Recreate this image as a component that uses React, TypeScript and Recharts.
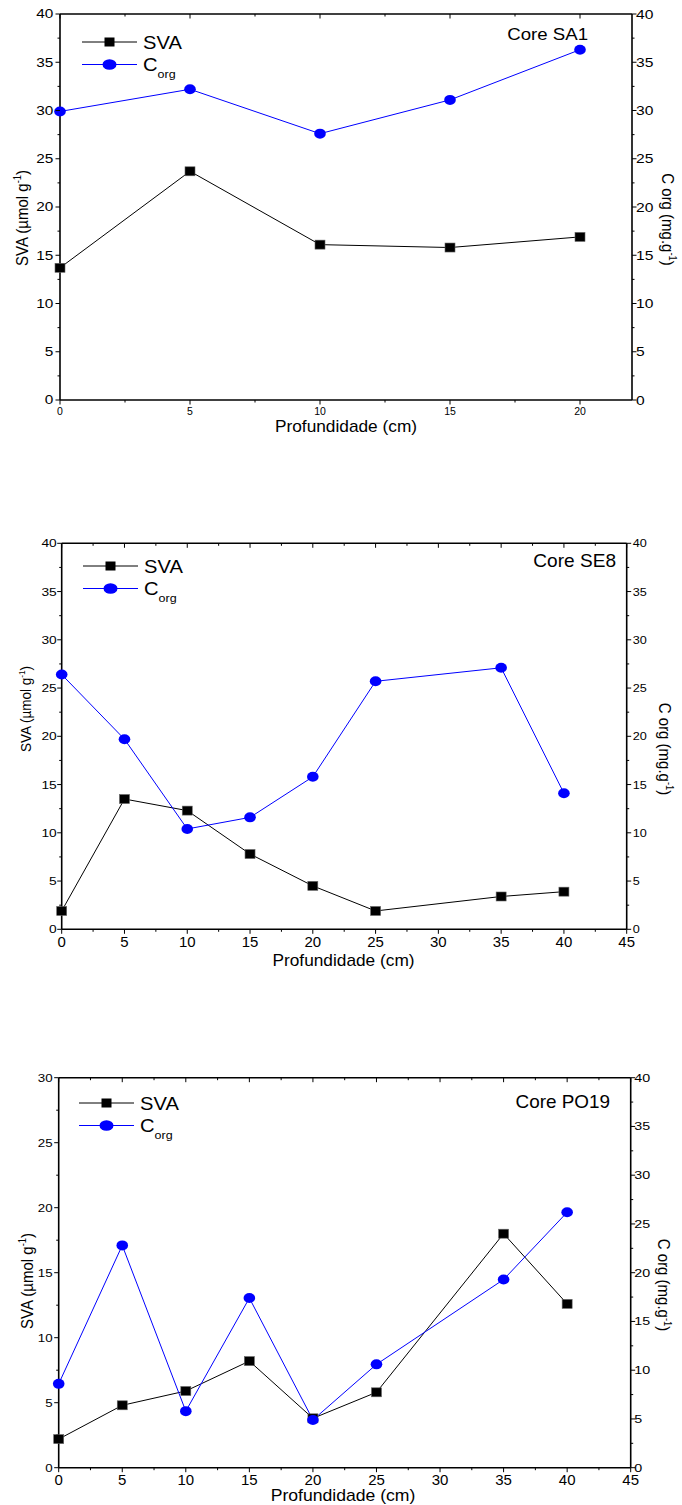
import { Legend, Line, LineChart, XAxis, YAxis } from "recharts";

const W = 682;
const FONT = '"Liberation Sans", Arial, Helvetica, sans-serif';
const BLUE = "#0000ff";
const AXIS = { stroke: "#000", strokeWidth: 1.6 };

// Core SA1
const depthSA1 = [0, 5, 10, 15, 20];
const svaSA1 = [13.7, 23.7, 16.1, 15.8, 16.9];
const corgSA1 = [29.9, 32.2, 27.6, 31.1, 36.3];

// Core SE8
const depthSE8 = [0, 5, 10, 15, 20, 25, 35, 40];
const svaSE8 = [1.9, 13.5, 12.3, 7.8, 4.5, 1.9, 3.4, 3.9];
const corgSE8 = [26.4, 19.7, 10.4, 11.6, 15.8, 25.7, 27.1, 14.1];

// Core PO19
const depthPO19 = [0, 5, 10, 15, 20, 25, 35, 40];
const svaPO19 = [2.2, 4.8, 5.9, 8.2, 3.8, 5.8, 18.0, 12.6];
const corgPO19 = [8.6, 22.8, 5.8, 17.4, 4.9, 10.6, 19.3, 26.2];

// ticks (majors every 5 get a label)
const xTicks22 = [0, 2.5, 5, 7.5, 10, 12.5, 15, 17.5, 20];
const xTicks45 = [0, 2.5, 5, 7.5, 10, 12.5, 15, 17.5, 20, 22.5, 25, 27.5, 30, 32.5, 35, 37.5, 40, 42.5, 45];
const yTicks30 = [0, 2.5, 5, 7.5, 10, 12.5, 15, 17.5, 20, 22.5, 25, 27.5, 30];
const yTicks40 = [0, 2.5, 5, 7.5, 10, 12.5, 15, 17.5, 20, 22.5, 25, 27.5, 30, 32.5, 35, 37.5, 40];

type Side = "left" | "right" | "bottom" | "top";
interface TxtStyle { fs: number; sx: number; gap: number }

function makeTick(side: Side, st?: TxtStyle) {
  return (p: any) => {
    const { x, y, payload } = p;
    const v = payload.value as number;
    const major = v % 5 === 0;
    const len = major ? 4.5 : 2.5;
    let line;
    if (side === "left") line = <line x1={x - len} x2={x} y1={y} y2={y} />;
    else if (side === "right") line = <line x1={x} x2={x + len} y1={y} y2={y} />;
    else line = <line x1={x} x2={x} y1={y} y2={y + len} />;
    let label = null;
    if (st && major) {
      let tx = x;
      let ty = y + st.gap;
      let anchor = "middle";
      if (side === "left") {
        tx = x - st.gap;
        ty = y + st.fs * 0.36;
        anchor = "end";
      } else if (side === "right") {
        tx = x + st.gap;
        ty = y + st.fs * 0.36;
        anchor = "start";
      }
      label = (
        <text
          transform={`translate(${tx},${ty}) scale(${st.sx},1)`}
          textAnchor={anchor}
          fontSize={st.fs}
          fontFamily={FONT}
          fill="#000"
        >
          {v}
        </text>
      );
    }
    return (
      <g>
        <g stroke="#000" strokeWidth={1}>{line}</g>
        {label}
      </g>
    );
  };
}

const squareDot = (p: any) => (
  <rect key={`sq-${p.index}`} x={p.cx - 5} y={p.cy - 4.5} width={10} height={9} fill="#000" stroke="#666" strokeWidth={0.6} />
);
const circleDot = (p: any) => (
  <ellipse key={`ci-${p.index}`} cx={p.cx} cy={p.cy} rx={5.8} ry={5} fill={BLUE} />
);

interface TitleCfg { x: number; y: number; fs: number; sx: number }

interface PanelProps {
  top: number;
  height: number;
  box: { left: number; right: number; top: number; bottom: number };
  depth: number[];
  sva: number[];
  corg: number[];
  xMax: number;
  xTicks: number[];
  leftMax: number;
  leftTicks: number[];
  tl: { left: TxtStyle; right: TxtStyle; x: TxtStyle };
  xTitle: TitleCfg;
  leftTitle: TitleCfg;
  rightTitle: TitleCfg;
  core: TitleCfg & { text: string };
  legend: { x: number; y: number };
}

function Panel(props: PanelProps) {
  const { top, height, box, depth, sva, corg, tl, xTitle, leftTitle, rightTitle, core, legend } = props;
  const rows = depth.map((d, i) => ({ depth: d, sva: sva[i], corg: corg[i] }));
  const lfs = 18;
  const lsx = 1.12;
  const gap = 22.5;

  return (
    <div style={{ position: "absolute", left: 0, top, width: W, height }}>
      <LineChart width={W} height={height} data={rows} margin={{ top: box.top - 1, right: 0, bottom: 0, left: 0 }}>
        <XAxis
          xAxisId="bottom"
          dataKey="depth"
          type="number"
          domain={[0, props.xMax]}
          ticks={props.xTicks}
          interval={0}
          height={height - box.bottom}
          tickSize={0}
          tickMargin={0}
          tickLine={false}
          axisLine={AXIS}
          tick={makeTick("bottom", tl.x)}
          label={() => (
            <text
              transform={`translate(${xTitle.x},${xTitle.y}) scale(${xTitle.sx},1)`}
              textAnchor="middle"
              fontSize={xTitle.fs}
              fontFamily={FONT}
              fill="#000"
            >
              Profundidade (cm)
            </text>
          )}
        />
        <XAxis
          xAxisId="top"
          orientation="top"
          dataKey="depth"
          type="number"
          domain={[0, props.xMax]}
          ticks={props.xTicks}
          interval={0}
          height={1}
          tickSize={0}
          tickMargin={0}
          tickLine={false}
          axisLine={AXIS}
          tick={makeTick("top")}
          label={() => (
            <text
              transform={`translate(${core.x},${core.y}) scale(${core.sx},1)`}
              textAnchor="end"
              fontSize={core.fs}
              fontFamily={FONT}
              fill="#000"
            >
              {core.text}
            </text>
          )}
        />
        <YAxis
          yAxisId="left"
          type="number"
          domain={[0, props.leftMax]}
          ticks={props.leftTicks}
          interval={0}
          width={box.left}
          tickSize={0}
          tickMargin={0}
          tickLine={false}
          axisLine={AXIS}
          tick={makeTick("left", tl.left)}
          label={() => (
            <text
              transform={`translate(${leftTitle.x},${leftTitle.y}) scale(${leftTitle.sx},1) rotate(-90)`}
              y={leftTitle.fs * 0.36}
              textAnchor="middle"
              fontSize={leftTitle.fs}
              fontFamily={FONT}
              fill="#000"
            >
              SVA (µmol g
              <tspan dy={-leftTitle.fs * 0.42} fontSize={leftTitle.fs * 0.62}>-1</tspan>
              <tspan dy={leftTitle.fs * 0.42}>)</tspan>
            </text>
          )}
        />
        <YAxis
          yAxisId="right"
          orientation="right"
          type="number"
          domain={[0, 40]}
          ticks={yTicks40}
          interval={0}
          width={W - box.right}
          tickSize={0}
          tickMargin={0}
          tickLine={false}
          axisLine={AXIS}
          tick={makeTick("right", tl.right)}
          label={() => (
            <text
              transform={`translate(${rightTitle.x},${rightTitle.y}) scale(${rightTitle.sx},1) rotate(90)`}
              y={rightTitle.fs * 0.36}
              textAnchor="middle"
              fontSize={rightTitle.fs}
              fontFamily={FONT}
              fill="#000"
            >
              C org (mg.g
              <tspan dy={-rightTitle.fs * 0.42} fontSize={rightTitle.fs * 0.62}>-1</tspan>
              <tspan dy={rightTitle.fs * 0.42}>)</tspan>
            </text>
          )}
        />
        <Line
          xAxisId="bottom"
          yAxisId="left"
          dataKey="sva"
          stroke="#000"
          strokeWidth={1}
          dot={squareDot}
          isAnimationActive={false}
        />
        <Line
          xAxisId="bottom"
          yAxisId="right"
          dataKey="corg"
          stroke={BLUE}
          strokeWidth={1}
          dot={circleDot}
          isAnimationActive={false}
        />
        <Legend
          layout="vertical"
          align="center"
          verticalAlign="middle"
          wrapperStyle={{ left: legend.x - 4, top: legend.y - 14, width: 150, height: 62 }}
          content={() => (
            <svg width={150} height={62} style={{ display: "block", overflow: "visible" }}>
              <line x1={4} x2={59} y1={14} y2={14} stroke="#000" strokeWidth={1} />
              <rect x={26.5} y={9.5} width={10} height={9} fill="#000" />
              <text transform={`translate(65,${14 + 6.5}) scale(${lsx},1)`} fontSize={lfs} fontFamily={FONT} fill="#000">
                SVA
              </text>
              <line x1={4} x2={59} y1={14 + gap} y2={14 + gap} stroke={BLUE} strokeWidth={1} />
              <ellipse cx={31.5} cy={14 + gap} rx={7} ry={5.3} fill={BLUE} />
              <text transform={`translate(65,${14 + gap + 6.5}) scale(${lsx},1)`} fontSize={lfs} fontFamily={FONT} fill="#000">
                C
                <tspan fontSize={lfs * 0.62} dy={6.5}>org</tspan>
              </text>
            </svg>
          )}
        />
      </LineChart>
    </div>
  );
}

export default function App() {
  return (
    <div style={{ position: "absolute", left: 0, top: 0, width: W, height: 1505, background: "#fff" }}>
      <Panel
        top={0}
        height={440}
        box={{ left: 60, right: 632, top: 14, bottom: 400 }}
        depth={depthSA1}
        sva={svaSA1}
        corg={corgSA1}
        xMax={22}
        xTicks={xTicks22}
        leftMax={40}
        leftTicks={yTicks40}
        tl={{
          left: { fs: 12, sx: 1.28, gap: 6.6 },
          right: { fs: 12.5, sx: 1.25, gap: 4 },
          x: { fs: 10.5, sx: 1.0, gap: 15 },
        }}
        xTitle={{ x: 346, y: 431.7, fs: 16, sx: 1.08 }}
        leftTitle={{ x: 22, y: 218, fs: 15, sx: 1.15 }}
        rightTitle={{ x: 668, y: 219.5, fs: 15, sx: 1.1 }}
        core={{ text: "Core SA1", x: 588, y: 40, fs: 16.5, sx: 1.13 }}
        legend={{ x: 82, y: 41.7 }}
      />
      <Panel
        top={520}
        height={460}
        box={{ left: 61.7, right: 626.7, top: 23.3, bottom: 409.3 }}
        depth={depthSE8}
        sva={svaSE8}
        corg={corgSE8}
        xMax={45}
        xTicks={xTicks45}
        leftMax={40}
        leftTicks={yTicks40}
        tl={{
          left: { fs: 11, sx: 1.25, gap: 5 },
          right: { fs: 11, sx: 1.15, gap: 6 },
          x: { fs: 14, sx: 1.07, gap: 17.4 },
        }}
        xTitle={{ x: 343.5, y: 446, fs: 16, sx: 1.08 }}
        leftTitle={{ x: 25.5, y: 189, fs: 13.5, sx: 1.15 }}
        rightTitle={{ x: 665, y: 229, fs: 15, sx: 1.1 }}
        core={{ text: "Core SE8", x: 616, y: 46.7, fs: 18, sx: 1.06 }}
        legend={{ x: 83, y: 45.7 }}
      />
      <Panel
        top={1060}
        height={445}
        box={{ left: 58.7, right: 630.7, top: 17.7, bottom: 407.7 }}
        depth={depthPO19}
        sva={svaPO19}
        corg={corgPO19}
        xMax={45}
        xTicks={xTicks45}
        leftMax={30}
        leftTicks={yTicks30}
        tl={{
          left: { fs: 11.5, sx: 1.16, gap: 6 },
          right: { fs: 11, sx: 1.3, gap: 3.5 },
          x: { fs: 15, sx: 1.0, gap: 17 },
        }}
        xTitle={{ x: 343, y: 441, fs: 16, sx: 1.1 }}
        leftTitle={{ x: 27, y: 221, fs: 15, sx: 1.15 }}
        rightTitle={{ x: 663.5, y: 225, fs: 15, sx: 1.1 }}
        core={{ text: "Core PO19", x: 610, y: 47.7, fs: 18, sx: 1.05 }}
        legend={{ x: 79, y: 43.3 }}
      />
    </div>
  );
}
